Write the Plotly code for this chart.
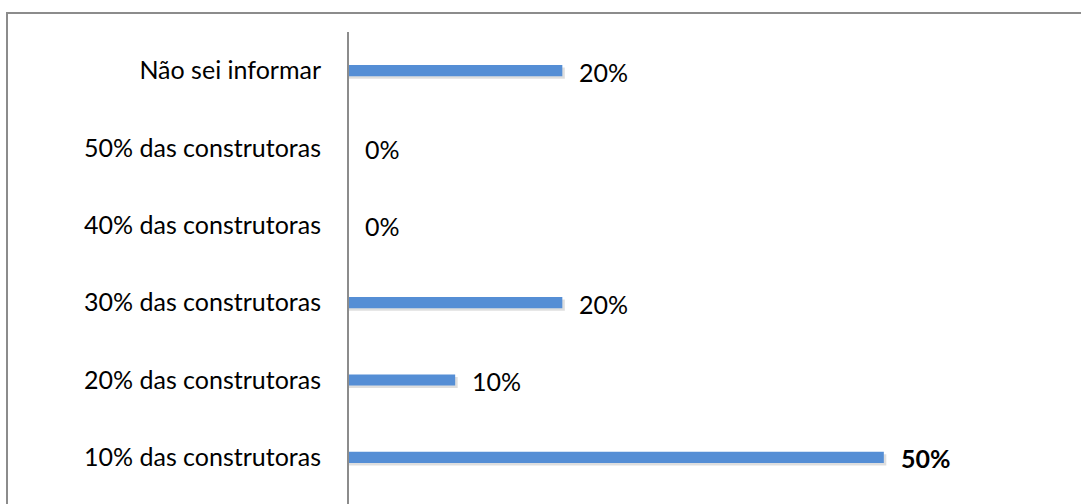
import plotly.graph_objects as go

# Survey answers (bottom to top) and the share of respondents for each
categories = [
    "10% das construtoras",
    "20% das construtoras",
    "30% das construtoras",
    "40% das construtoras",
    "50% das construtoras",
    "Não sei informar",
]
values = [50, 10, 20, 0, 0, 20]
bold_flags = [True, False, False, False, False, False]

W, H = 1081, 504
ML, MR, MT, MB = 348, 90, 32, 8
X_MAX = 60
BAR_W = 0.145
BAR_COLOR = "#558ED5"
FONT = "Lato"
FONT_SIZE = 25

px_per_unit = (W - ML - MR) / X_MAX
py_per_cat = (H - MT - MB) / len(categories)

fig = go.Figure()

# soft drop shadow under each bar
fig.add_trace(go.Bar(
    y=categories,
    x=[v + 1.5 / px_per_unit if v > 0 else 0 for v in values],
    base=[1.0 / px_per_unit] * len(values),
    orientation="h",
    width=BAR_W,
    offset=-BAR_W / 2 - 2.5 / py_per_cat,
    marker=dict(color="rgba(0,0,0,0.13)", line=dict(width=0)),
    hoverinfo="skip",
    showlegend=False,
))

fig.add_trace(go.Bar(
    y=categories,
    x=values,
    orientation="h",
    width=BAR_W,
    marker=dict(color=BAR_COLOR, line=dict(width=0)),
    showlegend=False,
))

annotations = []
for cat, v, b in zip(categories, values, bold_flags):
    txt = f"{v}%"
    if b:
        txt = f"<b>{txt}</b>"
    annotations.append(dict(
        x=v, y=cat, xref="x", yref="y", text=txt, showarrow=False,
        xanchor="left", yanchor="middle",
        xshift=15, yshift=-1,
        font=dict(family=FONT, size=FONT_SIZE, color="#000000"),
    ))

def px_x(p):
    return (p - ML) / (W - ML - MR)

def px_y(p):
    return (H - MB - p) / (H - MT - MB)

shapes = [
    # outer chart frame
    dict(type="rect", xref="paper", yref="paper",
         x0=px_x(7), x1=px_x(W + 10), y0=px_y(H + 10), y1=px_y(13),
         line=dict(color="#8C8C8C", width=2), fillcolor="rgba(0,0,0,0)", layer="below"),
    # category axis line
    dict(type="line", xref="paper", yref="paper",
         x0=0, x1=0, y0=px_y(H + 5), y1=1,
         line=dict(color="#8C8C8C", width=2)),
]

fig.update_layout(
    width=W, height=H,
    margin=dict(l=ML, r=MR, t=MT, b=MB),
    paper_bgcolor="white", plot_bgcolor="white",
    barmode="overlay",
    annotations=annotations,
    shapes=shapes,
    xaxis=dict(range=[0, X_MAX], visible=False, showgrid=False, zeroline=False),
    yaxis=dict(
        categoryorder="array", categoryarray=categories,
        showgrid=False, zeroline=False, showline=False,
        ticks="", ticklabelstandoff=26,
        tickfont=dict(family=FONT, size=FONT_SIZE, color="#000000"),
    ),
    font=dict(family=FONT),
)

fig.write_html("out.html")
